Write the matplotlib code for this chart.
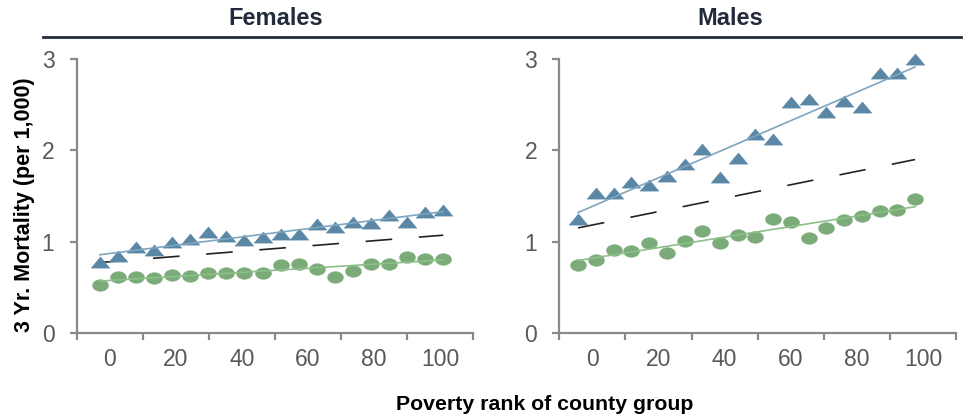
import numpy as np
import matplotlib
matplotlib.use("Agg")
import matplotlib.pyplot as plt
from matplotlib.path import Path
from matplotlib.lines import Line2D

# ---- data -------------------------------------------------------------
panels = ["Females", "Males"]
x_labels = [0, 20, 40, 60, 80, 100]

females_x = [-3.0, 2.5, 8.0, 13.5, 18.9, 24.4, 29.9, 35.3, 40.8, 46.3,
             51.8, 57.2, 62.7, 68.2, 73.6, 79.1, 84.6, 90.1, 95.5, 101.0]
females_upper = [0.78, 0.84, 0.94, 0.91, 1.00, 1.03, 1.11, 1.06, 1.02, 1.05,
                 1.08, 1.08, 1.19, 1.16, 1.22, 1.20, 1.29, 1.21, 1.32, 1.35]
females_lower = [0.52, 0.61, 0.61, 0.60, 0.63, 0.62, 0.66, 0.66, 0.65, 0.66,
                 0.74, 0.75, 0.70, 0.61, 0.68, 0.75, 0.75, 0.83, 0.81, 0.81]
females_overall = [0.77, 1.07]   # overall trend at first / last group

males_x = [-4.3, 1.1, 6.4, 11.8, 17.1, 22.5, 27.9, 33.2, 38.6, 44.0,
           49.3, 54.7, 60.0, 65.4, 70.8, 76.1, 81.5, 86.9, 92.2, 97.6]
males_upper = [1.25, 1.53, 1.53, 1.65, 1.62, 1.72, 1.85, 2.02, 1.71, 1.92,
               2.18, 2.13, 2.53, 2.56, 2.42, 2.54, 2.48, 2.85, 2.85, 3.00]
males_lower = [0.74, 0.80, 0.91, 0.90, 0.98, 0.87, 1.01, 1.12, 0.98, 1.07,
               1.05, 1.25, 1.21, 1.04, 1.15, 1.24, 1.28, 1.33, 1.35, 1.47]
males_overall = [1.15, 1.90]

# ---- style ------------------------------------------------------------
BLUE = "#5a87a6"
BLUE_LINE = "#7fa5c0"
GREEN = "#7aab78"
GREEN_LINE = "#8dbf89"
AXIS_GREY = "#898989"
TICK_GREY = "#595959"
TITLE_COL = "#232a3c"

tick_font = ["Liberation Sans Narrow", "Liberation Sans", "DejaVu Sans"]
bold_font = ["Liberation Sans", "DejaVu Sans"]

# flattened marker shapes
t = np.linspace(0, 2 * np.pi, 60)
ellipse = Path(np.column_stack([np.cos(t), 0.73 * np.sin(t)]), closed=True)
triangle = Path([(-1, -0.6), (1, -0.6), (0, 0.6), (-1, -0.6)], closed=True)

W, H = 969, 419
fig = plt.figure(figsize=(W / 100, H / 100), dpi=100)

ax_rects = [
    (76.7 / W, (H - 332.7) / H, (473 - 76.7) / W, (332.7 - 59.3) / H),
    (559.3 / W, (H - 332.7) / H, (956 - 559.3) / W, (332.7 - 59.3) / H),
]

series = [
    (females_x, females_upper, females_lower, females_overall),
    (males_x, males_upper, males_lower, males_overall),
]

for rect, (xs, up, lo, overall) in zip(ax_rects, series):
    ax = fig.add_axes(rect)
    xs = np.asarray(xs)

    ax.plot(xs, up, linestyle="none", marker=triangle, markersize=13.5,
            color=BLUE, mec=BLUE, mew=0.3, zorder=3, clip_on=False)
    ax.plot(xs, lo, linestyle="none", marker=ellipse, markersize=11.5,
            color=GREEN, mec=GREEN, mew=0.3, zorder=3, clip_on=False)

    # least-squares trend of each group
    for vals, col in ((up, BLUE_LINE), (lo, GREEN_LINE)):
        k, b = np.polyfit(xs, vals, 1)
        ends = np.array([xs[0], xs[-1]])
        ax.plot(ends, k * ends + b, color=col, lw=1.2, zorder=4)

    ax.plot([xs[0], xs[-1]], overall, color="#222222", lw=1.2,
            linestyle=(0, (16, 16)), zorder=2)

    ax.set_xlim(-10, 110)
    ax.set_ylim(0, 3)
    for s in ("top", "right"):
        ax.spines[s].set_visible(False)
    for s in ("left", "bottom"):
        ax.spines[s].set_color(AXIS_GREY)
        ax.spines[s].set_linewidth(1.6)

    ax.set_yticks([0, 1, 2, 3])
    ax.set_xticks(np.arange(-10, 111, 20))
    ax.set_xticklabels([])
    ax.set_xticks(x_labels, minor=True)
    ax.set_xticklabels([str(v) for v in x_labels], minor=True)
    ax.tick_params(axis="x", which="major", length=5, width=1.6,
                   color=AXIS_GREY, direction="out")
    ax.tick_params(axis="x", which="minor", length=0, pad=11,
                   labelsize=16.5, labelcolor=TICK_GREY)
    ax.tick_params(axis="y", length=5, width=1.6, color=AXIS_GREY,
                   direction="out", pad=11, labelsize=16.5,
                   labelcolor=TICK_GREY)
    for lab in ax.get_xticklabels(minor=True) + ax.get_yticklabels():
        lab.set_family(tick_font)

# panel headings with the rule beneath them
fig.text(276 / W, (H - 25) / H, panels[0], ha="center", va="baseline",
         fontsize=17, fontweight="bold", color=TITLE_COL, family=bold_font)
fig.text(730 / W, (H - 25) / H, panels[1], ha="center", va="baseline",
         fontsize=17, fontweight="bold", color=TITLE_COL, family=bold_font)
fig.add_artist(Line2D([43 / W, 961 / W], [(H - 37) / H] * 2,
                      transform=fig.transFigure, color=TITLE_COL, lw=2.0))

fig.text(25 / W, (H - 205) / H, "3 Yr. Mortality (per 1,000)",
         rotation=90, ha="center", va="center", fontsize=15.5,
         fontweight="bold", color="black", family=bold_font)
fig.text(545 / W, (H - 410) / H, "Poverty rank of county group",
         ha="center", va="baseline", fontsize=15.3, fontweight="bold",
         color="black", family=bold_font)

fig.savefig("out.png", dpi=100)
